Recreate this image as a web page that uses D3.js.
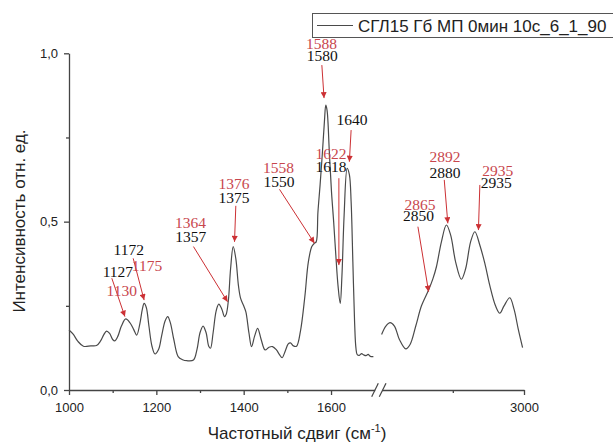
<!DOCTYPE html>
<html>
<head>
<meta charset="utf-8">
<script src="https://cdn.jsdelivr.net/npm/d3@7"></script>
<style>
body { margin: 0; background: #fff; }
text { font-family: "Liberation Sans", Arial, sans-serif; }
.ann { font-family: "Liberation Serif", "Times New Roman", serif; font-size: 15.5px; }
</style>
</head>
<body>
<div id="chart"></div>
<script>
// spectrum, low wavenumber part (1000-1700)
const leftW = [1000,1010,1020,1033,1050,1063,1072,1080,1086,1093,1100,1105,1112,1120,1130,1140,1148,1155,1162,1168,1172,1177,1183,1190,1197,1205,1212,1220,1226,1232,1240,1250,1260,1270,1285,1293,1300,1307,1314,1320,1324,1330,1337,1343,1350,1356,1360,1365,1370,1376,1382,1388,1393,1400,1405,1412,1418,1425,1432,1440,1449,1458,1466,1475,1482,1488,1495,1502,1507,1514,1521,1530,1540,1548,1556,1562,1566,1570,1575,1580,1585,1588,1591,1596,1601,1606,1611,1616,1621,1625,1630,1637,1642,1646,1650,1654,1657,1660,1665,1670,1675,1680,1685,1690,1697];
const leftI = [0.178,0.165,0.145,0.130,0.131,0.132,0.145,0.165,0.175,0.168,0.150,0.146,0.160,0.190,0.211,0.199,0.180,0.163,0.195,0.240,0.257,0.245,0.190,0.130,0.107,0.120,0.160,0.205,0.218,0.200,0.150,0.099,0.090,0.087,0.089,0.120,0.170,0.190,0.170,0.130,0.124,0.170,0.235,0.255,0.240,0.218,0.225,0.267,0.360,0.426,0.390,0.310,0.272,0.250,0.232,0.170,0.129,0.160,0.183,0.150,0.119,0.127,0.129,0.119,0.105,0.096,0.115,0.137,0.140,0.131,0.130,0.175,0.277,0.380,0.426,0.436,0.440,0.528,0.610,0.700,0.800,0.846,0.830,0.710,0.590,0.500,0.400,0.310,0.257,0.340,0.520,0.658,0.640,0.560,0.380,0.200,0.125,0.105,0.103,0.108,0.104,0.102,0.106,0.100,0.099];
// spectrum, high wavenumber part (2800-3000)
const rightW = [2800,2806,2812,2818,2825,2834,2840,2848,2856,2866,2872,2877,2884,2891,2897,2904,2912,2918,2925,2931,2938,2945,2952,2960,2966,2972,2980,2986,2992,2998];
const rightI = [0.165,0.190,0.200,0.190,0.150,0.122,0.135,0.190,0.250,0.297,0.330,0.366,0.440,0.490,0.460,0.380,0.329,0.360,0.440,0.470,0.430,0.376,0.310,0.250,0.228,0.250,0.274,0.240,0.180,0.126];

// peak labels
const redLabels  = ["1130","1175","1364","1376","1558","1588","1622","2865","2892","2935"];
const redLabelW  = [1120.7,1178.6,1278.2,1377.8,1479.7,1578.2,1600,2854,2889,2963];
const redLabelI  = [0.279,0.354,0.481,0.597,0.645,1.013,0.686,0.535,0.676,0.636];
const blackLabels = ["1127","1172","1357","1375","1550","1580","1618","1640","2850","2880","2935"];
const blackLabelW = [1112,1137,1279,1378,1481,1580,1600,1648,2852,2889,2961];
const blackLabelI = [0.337,0.401,0.440,0.555,0.603,0.976,0.648,0.787,0.502,0.631,0.601];
// arrows: from -> to
const arrowFromW = [1098,1147,1285,1382,1482,1579,1618,1646,2851,2888,2938];
const arrowFromI = [0.332,0.391,0.426,0.547,0.596,0.965,0.629,0.772,0.485,0.624,0.609];
const arrowToW   = [1128,1172,1363,1379,1562,1584,1618,1642,2866,2893,2936];
const arrowToI   = [0.218,0.267,0.262,0.440,0.436,0.867,0.371,0.678,0.292,0.495,0.475];

const legendText = "СГЛ15 Гб МП 0мин 10с_6_1_90";

const width = 613, height = 444;
const axisColor = "#444";
const redText = "#c8464d", redArrow = "#cc3034";

const svg = d3.select("#chart").append("svg")
    .attr("width", width)
    .attr("height", height);

// scales (broken x axis)
const xL = d3.scaleLinear().domain([1000, 1700]).range([69, 374.7]);
const xR = d3.scaleLinear().domain([2800, 3000]).range([381.6, 524]);
const y = d3.scaleLinear().domain([0, 1]).range([390, 53.3]);
const sx = w => w < 2000 ? xL(w) : xR(w);

// y axis
const fmtComma = d => d3.format(".1f")(d).replace(".", ",");
const yAxisG = svg.append("g").attr("transform", "translate(69,0)")
    .call(d3.axisLeft(y).tickValues([0, 0.5, 1]).tickSize(5).tickSizeOuter(0).tickPadding(6).tickFormat(fmtComma));
svg.append("g").attr("transform", "translate(69,0)")
    .call(d3.axisLeft(y).tickValues([0.25, 0.75]).tickSize(3).tickFormat(""))
    .select(".domain").remove();

// x axes
const xLG = svg.append("g").attr("transform", "translate(0,390)")
    .call(d3.axisBottom(xL).tickValues([1000, 1200, 1400, 1600]).tickSize(5).tickSizeOuter(0).tickPadding(8).tickFormat(d3.format("d")));
svg.append("g").attr("transform", "translate(0,390)")
    .call(d3.axisBottom(xL).tickValues([1100, 1300, 1500]).tickSize(3).tickFormat(""))
    .select(".domain").remove();
const xRG = svg.append("g").attr("transform", "translate(0,390)")
    .call(d3.axisBottom(xR).tickValues([3000]).tickSize(5).tickSizeOuter(0).tickPadding(8).tickFormat(d3.format("d")));
svg.append("g").attr("transform", "translate(0,390)")
    .call(d3.axisBottom(xR).tickValues([2900]).tickSize(3).tickFormat(""))
    .select(".domain").remove();

svg.selectAll(".domain, .tick line").attr("stroke", axisColor).attr("stroke-width", 1.3);
svg.selectAll(".tick text").attr("fill", "#222").style("font-size", "13px")
    .style("font-family", "'Liberation Sans', Arial, sans-serif");

// break marks
[[371.7, 378.3], [379.3, 386]].forEach(p => {
    svg.append("line")
        .attr("x1", p[0]).attr("y1", 396.7)
        .attr("x2", p[1]).attr("y2", 383.3)
        .attr("stroke", axisColor).attr("stroke-width", 1.2);
});

// axis titles
const xt = svg.append("text")
    .attr("x", 297).attr("y", 439)
    .attr("text-anchor", "middle")
    .attr("fill", "#222")
    .style("font-size", "17px")
    .text("Частотный сдвиг (см");
xt.append("tspan").attr("dy", -7).style("font-size", "11px").text("-1");
xt.append("tspan").attr("dy", 7).text(")");

svg.append("text")
    .attr("transform", "translate(25,221) rotate(-90)")
    .attr("text-anchor", "middle")
    .attr("fill", "#222")
    .style("font-size", "17px")
    .text("Интенсивность отн. ед.");

// spectrum lines
const line = d3.line().x(d => sx(d[0])).y(d => y(d[1])).curve(d3.curveCatmullRom.alpha(0.5));
[[leftW, leftI], [rightW, rightI]].forEach(s => {
    svg.append("path")
        .datum(s[0].map((w, i) => [w, s[1][i]]))
        .attr("d", line)
        .attr("fill", "none")
        .attr("stroke", "#4a4a4a")
        .attr("stroke-width", 1.2);
});

// arrow marker
svg.append("defs").append("marker")
    .attr("id", "head")
    .attr("viewBox", "0 0 10 10")
    .attr("refX", 10).attr("refY", 5)
    .attr("markerUnits", "userSpaceOnUse")
    .attr("markerWidth", 7).attr("markerHeight", 6)
    .attr("orient", "auto")
    .append("path").attr("d", "M0,0 L10,5 L0,10 z").attr("fill", redArrow);

svg.selectAll(".arrow")
    .data(arrowFromW.map((w, i) => i))
    .join("line")
    .attr("class", "arrow")
    .attr("x1", i => sx(arrowFromW[i])).attr("y1", i => y(arrowFromI[i]))
    .attr("x2", i => sx(arrowToW[i])).attr("y2", i => y(arrowToI[i]))
    .attr("stroke", redArrow)
    .attr("stroke-width", 1)
    .attr("marker-end", "url(#head)");

// labels
svg.selectAll(".redlab")
    .data(redLabels)
    .join("text")
    .attr("class", "ann redlab")
    .attr("x", (d, i) => sx(redLabelW[i]))
    .attr("y", (d, i) => y(redLabelI[i]))
    .attr("text-anchor", "middle")
    .attr("fill", redText)
    .text(d => d);

svg.selectAll(".blacklab")
    .data(blackLabels)
    .join("text")
    .attr("class", "ann blacklab")
    .attr("x", (d, i) => sx(blackLabelW[i]))
    .attr("y", (d, i) => y(blackLabelI[i]))
    .attr("text-anchor", "middle")
    .attr("fill", "#111")
    .text(d => d);

// legend
const lg = svg.append("g");
lg.append("rect")
    .attr("x", 312.5).attr("y", 13.5)
    .attr("width", 310).attr("height", 24)
    .attr("fill", "#fff")
    .attr("stroke", "#555").attr("stroke-width", 1);
lg.append("line")
    .attr("x1", 317).attr("x2", 353).attr("y1", 25.5).attr("y2", 25.5)
    .attr("stroke", "#4a4a4a").attr("stroke-width", 1.2);
lg.append("text")
    .attr("x", 358).attr("y", 31.5)
    .attr("fill", "#222")
    .style("font-size", "17px")
    .text(legendText);
</script>
</body>
</html>
